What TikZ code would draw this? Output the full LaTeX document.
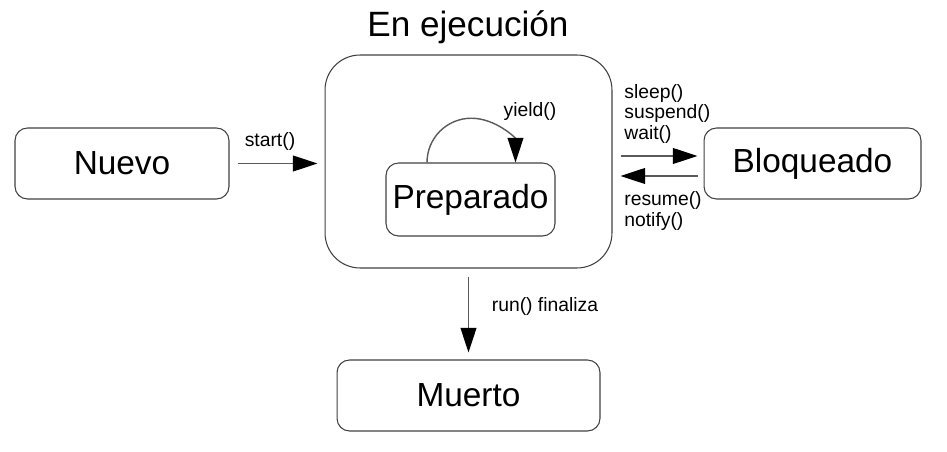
\documentclass[tikz,border=0pt]{standalone}
\usepackage{fontspec}
\setmainfont{Liberation Sans}
\usetikzlibrary{positioning, arrows.meta, calc}
\definecolor{stline}{HTML}{404040}
\definecolor{stflow}{HTML}{5A5A5A}
\definecolor{sttip}{HTML}{000000}

\tikzset{
  state/.style={draw=stline, line width=0.6pt, rounded corners=0.25cm, inner sep=0pt,
    minimum height=1.42cm, font=\fontsize{19}{22}\selectfont},
  flow/.style={draw=stflow, line width=0.8pt, -{Triangle[length=14pt, width=9pt, color=sttip]}},
  lbl/.style={inner sep=0pt, font=\fontsize{11}{11.7}\selectfont}
}

\begin{document}
\begin{tikzpicture}[x=0.02cm, y=-0.02cm]
    \useasboundingbox (0,0) rectangle (947,452);
    % estados
    \node[state, minimum width=4.28cm] (nuevo) at (122,163.5) {Nuevo};
    \node[state, minimum width=5.74cm, minimum height=4.26cm, rounded corners=0.7cm]
      (ejec) at (468.5,161.5) {};
    \node[inner sep=0pt, font=\fontsize{20}{24}\selectfont] (ejectit) at (468,27) {En ejecución};
    \node[state, minimum width=3.38cm, minimum height=1.46cm] (prep) at (470.5,199.5) {Preparado};
    \node[state, minimum width=4.34cm] (bloq) at (812.5,163.5) {Bloqueado};
    \node[state, minimum width=5.26cm] (muerto) at (468.5,395.5) {Muerto};
    % transiciones
    \draw[flow, shorten <=0.16cm, shorten >=0.14cm] (nuevo.east) -- (nuevo.east -| ejec.west);
    \node[lbl] (startlbl) at (270,142) {start()};
    \draw[flow] ([xshift=-0.87cm]prep.north) arc[start angle=180, end angle=0, radius=0.885cm];
    \node[lbl] (yieldlbl) at (530,112) {yield()};
    \draw[flow, shorten <=0.16cm, shorten >=0.12cm]
      ([yshift=0.15cm]bloq.west -| ejec.east) -- ([yshift=0.15cm]bloq.west);
    \node[lbl, align=left, anchor=west] (sleeplbl) at (624,114) {sleep()\\suspend()\\wait()};
    \draw[flow, shorten <=0.12cm, shorten >=0.16cm]
      ([yshift=-0.25cm]bloq.west) -- ([yshift=-0.25cm]bloq.west -| ejec.east);
    \node[lbl, align=left, anchor=west] (resumelbl) at (624,211) {resume()\\notify()};
    \draw[flow, shorten <=0.16cm, shorten >=0.14cm] (ejec.south) -- (muerto.north);
    \node[lbl] (runlbl) at (545,307) {run() finaliza};
  \end{tikzpicture}
\end{document}
